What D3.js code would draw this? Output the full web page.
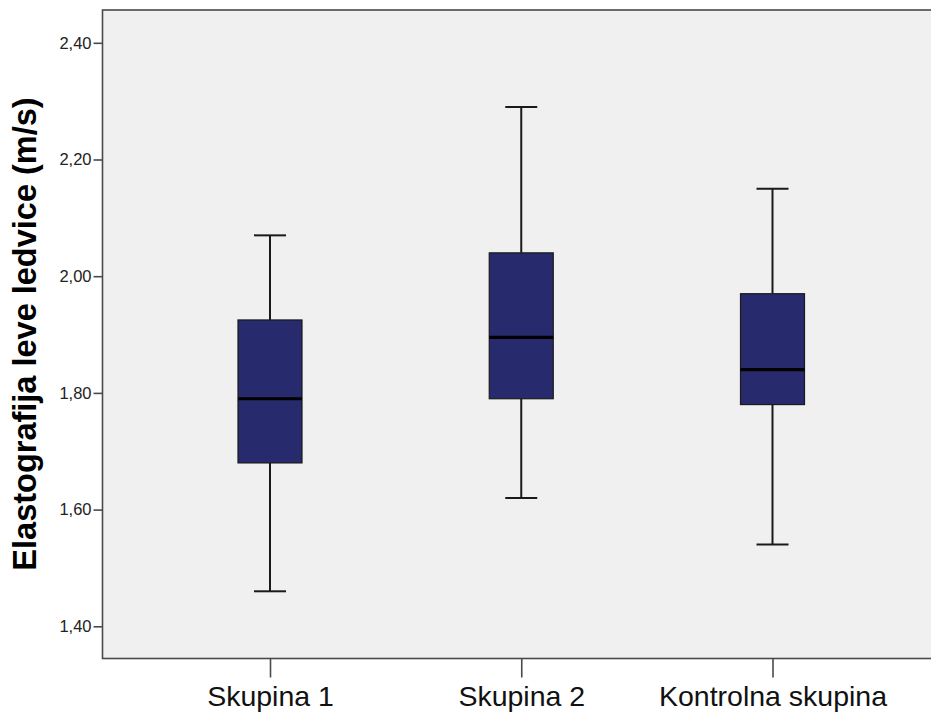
<!DOCTYPE html>
<html>
<head>
<meta charset="utf-8">
<script src="https://cdn.jsdelivr.net/npm/d3@7"></script>
<style>
  html, body { margin: 0; padding: 0; background: #ffffff; }
  svg { display: block; }
</style>
</head>
<body>
<svg id="chart" width="931" height="715"></svg>
<script>
// ---- data ----
const categories = ["Skupina 1", "Skupina 2", "Kontrolna skupina"];
const whiskerLow  = [1.46, 1.62, 1.54];
const q1          = [1.68, 1.79, 1.78];
const median      = [1.79, 1.895, 1.84];
const q3          = [1.925, 2.04, 1.97];
const whiskerHigh = [2.07, 2.29, 2.15];
const yTicks = [1.40, 1.60, 1.80, 2.00, 2.20, 2.40];
const yTitle = "Elastografija leve ledvice (m/s)";

const rows = categories.map((c, i) => ({
  cat: c, lo: whiskerLow[i], q1: q1[i], med: median[i], q3: q3[i], hi: whiskerHigh[i]
}));

const svg = d3.select("#chart");
const plot = { left: 102.5, top: 10, right: 940, bottom: 658.5 };

const y = d3.scaleLinear()
  .domain([1.40, 2.40])
  .range([626.3, 42.8]);

const x = d3.scalePoint()
  .domain(categories)
  .range([plot.left, plot.right])
  .padding(2 / 3);

const boxW = 64, capW = 32;

// plot background + frame
svg.append("rect")
  .attr("x", plot.left).attr("y", plot.top)
  .attr("width", plot.right - plot.left).attr("height", plot.bottom - plot.top)
  .attr("fill", "#f0f0f0")
  .attr("stroke", "#4a4a4a").attr("stroke-width", 1.6);

// y axis
const yAxis = d3.axisLeft(y)
  .tickValues(yTicks)
  .tickSize(9)
  .tickSizeOuter(0)
  .tickPadding(2)
  .tickFormat(d => d3.format(".2f")(d).replace(".", ","));
const gy = svg.append("g")
  .attr("transform", `translate(${plot.left},0)`)
  .call(yAxis);
gy.select(".domain").remove();
gy.selectAll(".tick line").attr("stroke", "#4a4a4a").attr("stroke-width", 1.6);
gy.selectAll(".tick text")
  .attr("fill", "#222")
  .style("font-family", "'Liberation Sans', Arial, sans-serif")
  .style("font-size", "16.5px");

// x axis
const xAxis = d3.axisBottom(x).tickSize(19).tickSizeOuter(0).tickPadding(8);
const gx = svg.append("g")
  .attr("transform", `translate(0,${plot.bottom})`)
  .call(xAxis);
gx.select(".domain").remove();
gx.selectAll(".tick line").attr("stroke", "#4a4a4a").attr("stroke-width", 1.6);
gx.selectAll(".tick text")
  .attr("fill", "#111")
  .style("font-family", "'Liberation Sans', Arial, sans-serif")
  .style("font-size", "28.5px");

// y title
svg.append("text")
  .attr("transform", `translate(36,${(98 + 570) / 2}) rotate(-90)`)
  .attr("text-anchor", "middle")
  .style("font-family", "'Liberation Sans', Arial, sans-serif")
  .style("font-weight", "bold")
  .style("font-size", "32.5px")
  .attr("fill", "#000")
  .text(yTitle);

// boxes
const g = svg.append("g").selectAll("g").data(rows).join("g");

g.append("line")
  .attr("x1", d => x(d.cat)).attr("x2", d => x(d.cat))
  .attr("y1", d => y(d.hi)).attr("y2", d => y(d.q3))
  .attr("stroke", "#1a1a1a").attr("stroke-width", 2);
g.append("line")
  .attr("x1", d => x(d.cat)).attr("x2", d => x(d.cat))
  .attr("y1", d => y(d.q1)).attr("y2", d => y(d.lo))
  .attr("stroke", "#1a1a1a").attr("stroke-width", 2);
g.append("line")
  .attr("x1", d => x(d.cat) - capW / 2).attr("x2", d => x(d.cat) + capW / 2)
  .attr("y1", d => y(d.hi)).attr("y2", d => y(d.hi))
  .attr("stroke", "#1a1a1a").attr("stroke-width", 2);
g.append("line")
  .attr("x1", d => x(d.cat) - capW / 2).attr("x2", d => x(d.cat) + capW / 2)
  .attr("y1", d => y(d.lo)).attr("y2", d => y(d.lo))
  .attr("stroke", "#1a1a1a").attr("stroke-width", 2);
g.append("rect")
  .attr("x", d => x(d.cat) - boxW / 2)
  .attr("y", d => y(d.q3))
  .attr("width", boxW)
  .attr("height", d => y(d.q1) - y(d.q3))
  .attr("fill", "#282a6e")
  .attr("stroke", "#1a1a1a").attr("stroke-width", 1.2);
g.append("line")
  .attr("x1", d => x(d.cat) - boxW / 2).attr("x2", d => x(d.cat) + boxW / 2)
  .attr("y1", d => y(d.med)).attr("y2", d => y(d.med))
  .attr("stroke", "#000").attr("stroke-width", 3.2);
</script>
</body>
</html>
